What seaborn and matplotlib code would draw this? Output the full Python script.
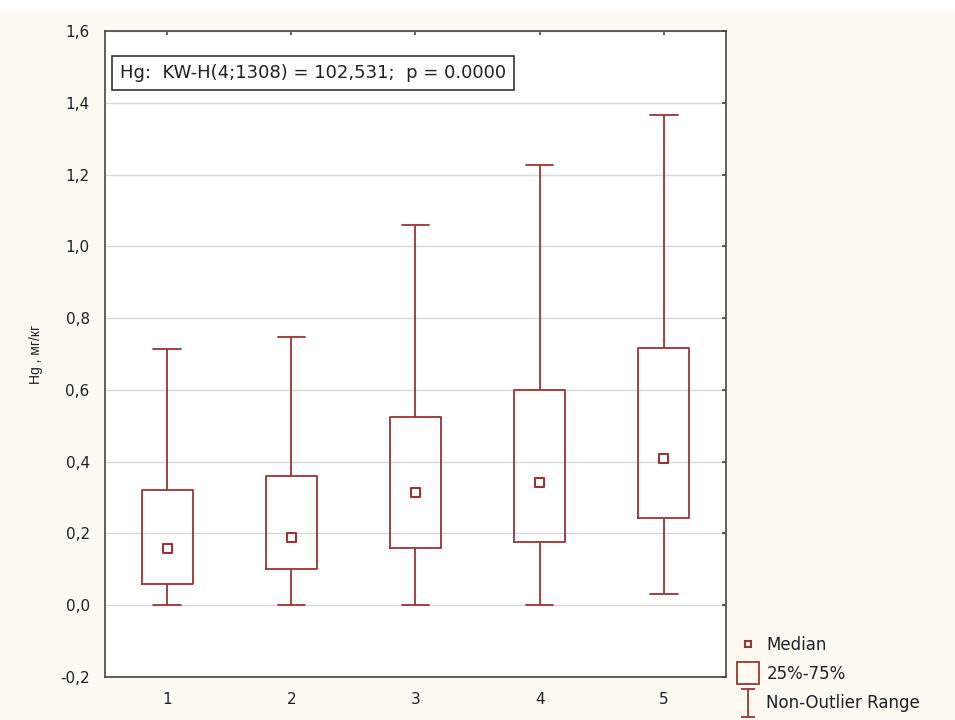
import numpy as np
import pandas as pd
import matplotlib
matplotlib.use("Agg")
import matplotlib.pyplot as plt
import seaborn as sns
from matplotlib.lines import Line2D
from matplotlib.path import Path
from matplotlib.patches import Rectangle

# =====================================================
# DATA
# =====================================================

groups = ["1", "2", "3", "4", "5"]

whisker_low = [0.000, 0.000, 0.000, 0.000, 0.030]
q1 = [0.060, 0.100, 0.159, 0.175, 0.243]
median = [0.158, 0.190, 0.315, 0.342, 0.408]
q3 = [0.322, 0.361, 0.525, 0.600, 0.717]
whisker_high = [0.713, 0.747, 1.058, 1.226, 1.366]

y_ticks = [-0.2, 0.0, 0.2, 0.4, 0.6, 0.8, 1.0, 1.2, 1.4, 1.6]

stat_text = "Hg:  KW-H(4;1308) = 102,531;  p = 0.0000"
y_label = "Hg , мг/кг"
legend_labels = ["Median", "25%-75%", "Non-Outlier Range"]

# =====================================================
# STYLE
# =====================================================

BOX_COLOR = "#9a3434"
FIG_BG = "#fefaf1"
TEXT_COLOR = "#1e1e2a"

sns.set_theme(style="white")
plt.rcParams["font.family"] = ["DejaVu Sans"]

# five-number summary per group -> long table for seaborn
rows = []
for g, lo, a, m, b, hi in zip(groups, whisker_low, q1, median, q3, whisker_high):
    for v in (lo, a, m, b, hi):
        rows.append({"group": g, "value": v})
df = pd.DataFrame(rows)
med_df = pd.DataFrame({"group": groups, "median": median})

fig = plt.figure(figsize=(9.55, 7.2), dpi=100, facecolor=FIG_BG)
fig.patches.append(Rectangle((0, 0.985), 1, 0.015, transform=fig.transFigure,
                             facecolor="white", edgecolor="none", zorder=-1))
ax = fig.add_axes([0.1099, 0.0597, 0.6503, 0.8973])
ax.set_facecolor("white")

# =====================================================
# BOXES
# =====================================================

sns.boxplot(
    data=df,
    x="group",
    y="value",
    order=groups,
    whis=(0, 100),
    width=0.41,
    fill=False,
    color=BOX_COLOR,
    linewidth=1.3,
    showfliers=False,
    medianprops={"visible": False},
    capwidths=0.22,
    ax=ax
)

sns.scatterplot(
    data=med_df,
    x="group",
    y="median",
    marker="s",
    s=42,
    facecolors="none",
    edgecolor=BOX_COLOR,
    linewidth=1.5,
    zorder=5,
    ax=ax
)

# =====================================================
# AXES
# =====================================================

ax.set_xlim(-0.5, 4.5)
ax.set_ylim(-0.2, 1.6)
ax.set_yticks(y_ticks)
ax.set_yticklabels([f"{t:.1f}".replace(".", ",").replace("-0,0", "0,0") for t in y_ticks])
ax.set_xlabel("")
ax.set_ylabel(y_label, fontsize=10, color=TEXT_COLOR, family="Liberation Sans",
              labelpad=12)

ax.yaxis.grid(True, color="#d8d8d8", linewidth=1.0)
ax.set_axisbelow(True)

for s in ax.spines.values():
    s.set_visible(True)
    s.set_color("#444444")
    s.set_linewidth(1.2)

ax.tick_params(direction="in", top=True, right=True, length=3, width=1.1,
               color="#333333", labelsize=11, labelcolor=TEXT_COLOR)
ax.tick_params(axis="x", pad=11)
ax.tick_params(axis="y", pad=11)

ax.text(0.024, 0.935, stat_text, transform=ax.transAxes, fontsize=13,
        color=TEXT_COLOR, va="center", ha="left",
        bbox=dict(boxstyle="square,pad=0.42", facecolor="white",
                  edgecolor="#222222", linewidth=1.1))

# =====================================================
# LEGEND
# =====================================================

i_path = Path(
    [(-0.5, 1), (0.5, 1), (0, 1), (0, -1), (-0.5, -1), (0.5, -1)],
    [Path.MOVETO, Path.LINETO, Path.MOVETO, Path.LINETO, Path.MOVETO, Path.LINETO]
)

handles = [
    Line2D([], [], ls="none", marker="s", markersize=5, mfc="none",
           mec=BOX_COLOR, mew=1.5),
    Line2D([], [], ls="none", marker="s", markersize=16, mfc="none",
           mec=BOX_COLOR, mew=1.3),
    Line2D([], [], ls="none", marker=i_path, markersize=20, mfc="none",
           mec=BOX_COLOR, mew=1.3),
]

leg = fig.legend(
    handles,
    legend_labels,
    loc="lower left",
    bbox_to_anchor=(0.765, 0.0),
    frameon=False,
    prop={"size": 12},
    handlelength=1.2,
    handletextpad=0.5,
    labelspacing=0.68,
    borderaxespad=0.05
)
for t in leg.get_texts():
    t.set_color(TEXT_COLOR)

fig.savefig("out.png", dpi=100, facecolor=FIG_BG)
